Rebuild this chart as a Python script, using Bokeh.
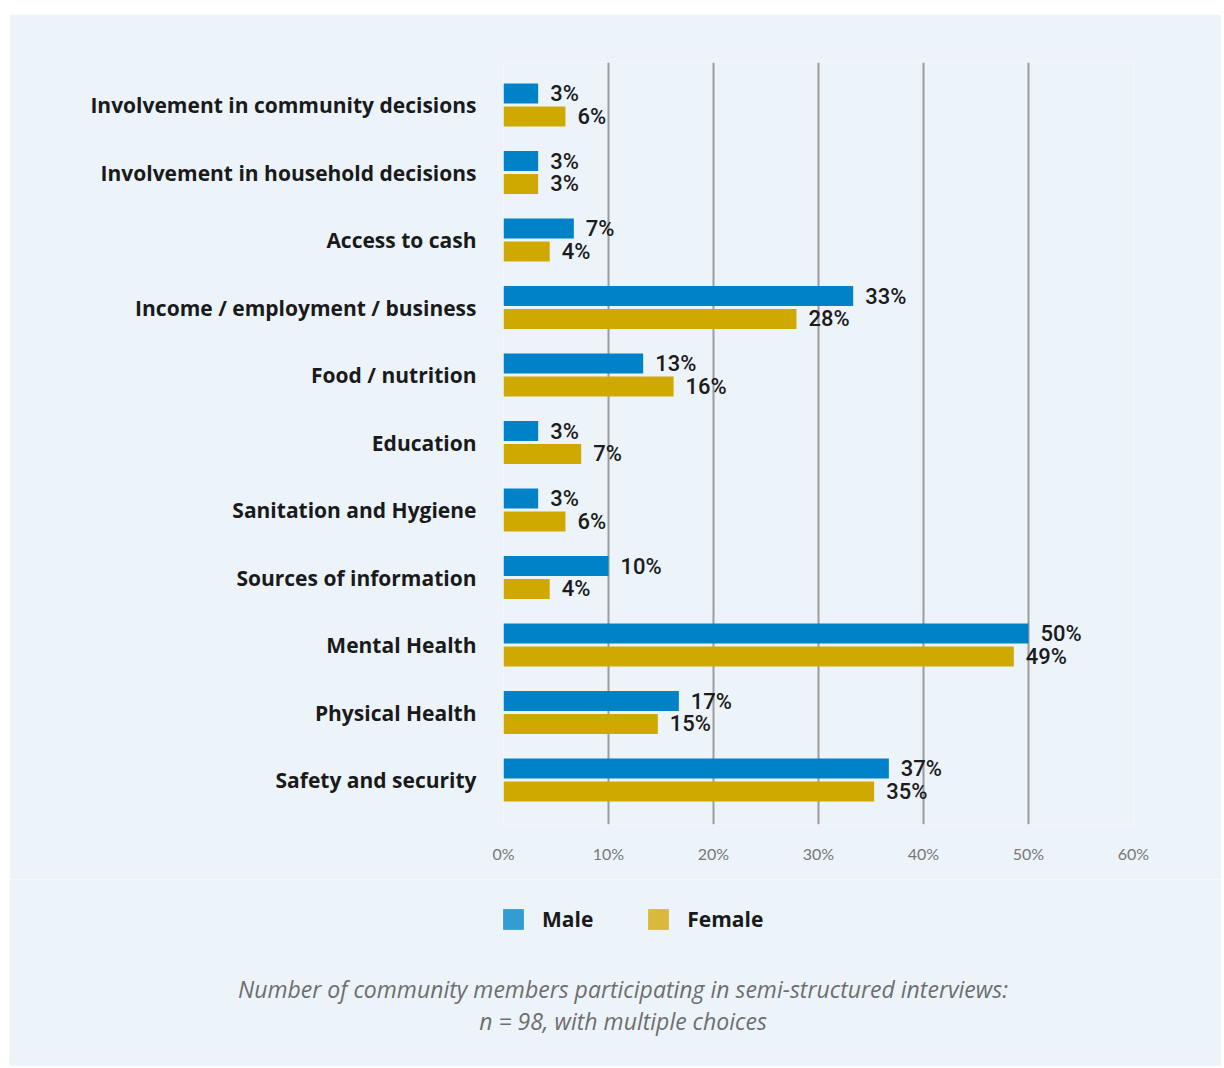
from bokeh.plotting import figure
from bokeh.layouts import column
from bokeh.models import ColumnDataSource, Range1d, FixedTicker, Legend, LegendItem, Label
from bokeh.transform import dodge
from bokeh.embed import file_html
from bokeh.resources import INLINE

categories = [
    "Involvement in community decisions",
    "Involvement in household decisions",
    "Access to cash",
    "Income / employment / business",
    "Food / nutrition",
    "Education",
    "Sanitation and Hygiene",
    "Sources of information",
    "Mental Health",
    "Physical Health",
    "Safety and security",
]
male = [3.3, 3.3, 6.7, 33.3, 13.3, 3.3, 3.3, 10.0, 50.0, 16.7, 36.7]
female = [5.9, 3.3, 4.4, 27.9, 16.2, 7.4, 5.9, 4.4, 48.6, 14.7, 35.3]
male_labels = ["3%", "3%", "7%", "33%", "13%", "3%", "3%", "10%", "50%", "17%", "37%"]
female_labels = ["6%", "3%", "4%", "28%", "16%", "7%", "6%", "4%", "49%", "15%", "35%"]
x_ticks = [0, 10, 20, 30, 40, 50, 60]
x_tick_labels = ["0%", "10%", "20%", "30%", "40%", "50%", "60%"]
series_names = ["Male", "Female"]
caption_lines = [
    "Number of community members participating in semi-structured interviews:",
    "n = 98, with multiple choices",
]

BG = "#ECF4FA"
BLUE = "#0082C8"
GOLD = "#CFA900"
BLUE_LEG = "#339CD5"
GOLD_LEG = "#DAB83C"

W = 1212
H1 = 865
H2 = 187

pos = list(range(len(categories)))
src = ColumnDataSource(dict(pos=pos, male=male, female=female,
                            ml=male_labels, fl=female_labels))

p = figure(width=W, height=H1, output_backend="svg", toolbar_location=None,
           x_range=Range1d(0, 60),
           y_range=Range1d(len(categories) - 1 + 0.659, -0.630))
p.frame_align = False
p.min_border_left = 494
p.min_border_right = W - 1124
p.min_border_top = 48
p.min_border_bottom = 55
p.background_fill_color = BG
p.border_fill_color = BG
p.outline_line_color = None

off = 0.170
bh = 0.296
p.hbar(y=dodge("pos", -off), right="male", left=0, height=bh, source=src,
       fill_color=BLUE, line_color=None)
p.hbar(y=dodge("pos", off), right="female", left=0, height=bh, source=src,
       fill_color=GOLD, line_color=None)

lab_font = "'Roboto Medium', Roboto"
for col, lab, dy in (("male", "ml", -off), ("female", "fl", off)):
    p.text(x=col, y=dodge("pos", dy), text=lab, source=src, x_offset=12,
           text_align="left", text_baseline="middle", text_font_size="22px",
           text_color="#1c1c1c", text_font={"value": lab_font})

p.xaxis.ticker = FixedTicker(ticks=x_ticks)
p.xaxis.major_label_overrides = {t: l for t, l in zip(x_ticks, x_tick_labels)}
p.xaxis.axis_line_color = None
p.xaxis.major_tick_line_color = None
p.xaxis.minor_tick_line_color = None
p.xaxis.major_label_standoff = 13
p.xaxis.major_label_text_font = "Lato"
p.xaxis.major_label_text_font_size = "16px"
p.xaxis.major_label_text_color = "#777777"

p.yaxis.ticker = FixedTicker(ticks=pos)
p.yaxis.major_label_overrides = {i: c for i, c in zip(pos, categories)}
p.yaxis.axis_line_color = None
p.yaxis.major_tick_line_color = None
p.yaxis.minor_tick_line_color = None
p.yaxis.major_label_standoff = 21
p.yaxis.major_label_text_font = "Open Sans"
p.yaxis.major_label_text_font_style = "bold"
p.yaxis.major_label_text_font_size = "21px"
p.yaxis.major_label_text_color = "#1a1a1a"

p.ygrid.grid_line_color = None
p.xgrid.ticker = FixedTicker(ticks=x_ticks)
p.xgrid.grid_line_color = "#9c9c9c"
p.xgrid.grid_line_width = 2

# legend + caption figure
p2 = figure(width=W, height=H2, output_backend="svg", toolbar_location=None,
            x_range=Range1d(0, 1), y_range=Range1d(0, 1),
            x_axis_type=None, y_axis_type=None, min_border=0)
p2.frame_align = False
p2.background_fill_color = BG
p2.border_fill_color = BG
p2.outline_line_color = None
p2.grid.visible = False

nan = float("nan")
legend_renderers = []
for c in (BLUE_LEG, GOLD_LEG):
    legend_renderers.append(p2.quad(left=[nan], right=[nan], top=[nan], bottom=[nan],
                                    fill_color=c, line_color=None))
legend = Legend(items=[LegendItem(label=n, renderers=[r])
                       for n, r in zip(series_names, legend_renderers)],
                orientation="horizontal", location=(491, 133),
                glyph_width=26, glyph_height=26, label_standoff=16, spacing=52,
                padding=0, margin=0, border_line_color=None,
                background_fill_alpha=0,
                label_text_font="Open Sans", label_text_font_style="bold",
                label_text_font_size="21px", label_text_color="#1a1a1a",
                label_height=26)
p2.add_layout(legend, "center")

for i, line in enumerate(caption_lines):
    p2.add_layout(Label(x=613.5, y=78 - 32 * i, x_units="screen", y_units="screen",
                        text=line, text_align="center", text_baseline="middle",
                        text_font="Open Sans", text_font_style="italic",
                        text_font_size="23px", text_color="#6e6e6e"))

layout = column(p, p2, spacing=0, margin=(14, 0, 0, 9))
open("out.html", "w").write(file_html(layout, INLINE))
